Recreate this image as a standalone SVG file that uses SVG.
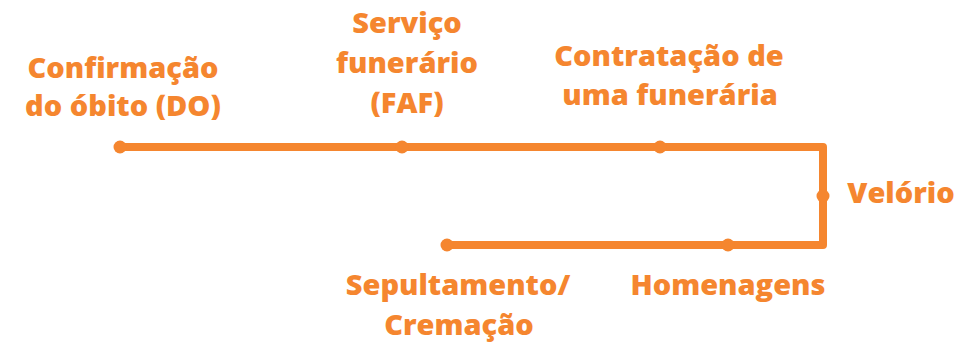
<svg xmlns="http://www.w3.org/2000/svg" width="969" height="347" viewBox="0 0 969 347">
<style>
.t{font-family:"Open Sans","Liberation Sans",sans-serif;font-weight:800;font-size:29px;fill:#F5862F;text-anchor:middle}
.ln{fill:none;stroke:#F5862F;stroke-width:8;stroke-linejoin:round;stroke-linecap:butt}
.d{fill:#F5862F}
</style>
<rect width="969" height="347" fill="#ffffff"/>
<g id="connectors">
<path class="ln" d="M120,147 H823 V245 H447"/>
</g>
<g id="n1"><circle class="d" cx="120" cy="147" r="6.5"/><text class="t" x="123" y="78">Confirmação</text><text class="t" x="123" y="116">do óbito (DO)</text></g>
<g id="n2"><circle class="d" cx="402" cy="147" r="6.5"/><text class="t" x="407" y="33">Serviço</text><text class="t" x="407" y="73">funerário</text><text class="t" x="407" y="113">(FAF)</text></g>
<g id="n3"><circle class="d" cx="660" cy="147" r="6.5"/><text class="t" x="669" y="66">Contratação de</text><text class="t" x="670" y="105">uma funerária</text></g>
<g id="n4"><circle class="d" cx="823" cy="196" r="6.5"/><text class="t" x="901" y="203">Velório</text></g>
<g id="n5"><circle class="d" cx="728" cy="245" r="6.5"/><text class="t" x="728" y="295">Homenagens</text></g>
<g id="n6"><circle class="d" cx="447" cy="245" r="6.5"/><text class="t" x="458" y="295">Sepultamento/</text><text class="t" x="459" y="335">Cremação</text></g>
</svg>
